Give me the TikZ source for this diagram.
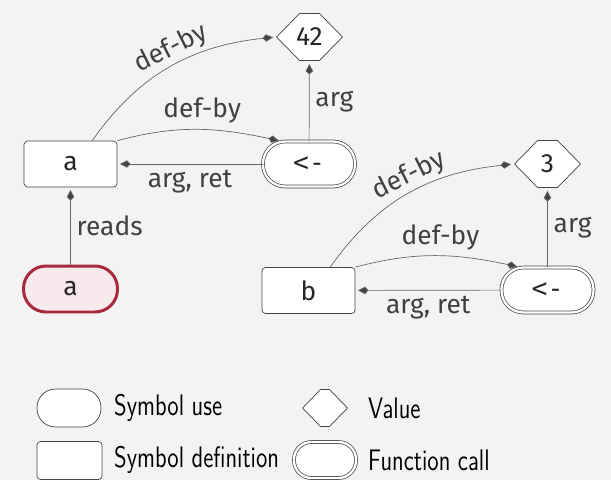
\documentclass[tikz,border=0pt]{standalone}
\usepackage{fontspec}
\setmainfont{Fira Sans}
\setmonofont{DejaVu Sans Mono}
\usetikzlibrary{arrows.meta}

\definecolor{bgcol}{HTML}{F3F3F3}
\definecolor{usered}{HTML}{A8283C}
\definecolor{usefill}{HTML}{F7E9EC}
\definecolor{edgecol}{HTML}{666666}
\definecolor{linecol}{HTML}{444444}

\newcommand{\legtext}[1]{\scalebox{1}[1.28]{#1}}

\begin{document}
\begin{tikzpicture}[
        x=0.02cm, y=-0.02cm,
        every node/.style={
            font=\fontsize{15}{18}\selectfont,
            text=black!85
        },
        symdef/.style={
            draw=linecol,
            fill=white,
            rounded corners=2pt,
            minimum width=1.86cm,
            minimum height=0.92cm
        },
        symuse/.style={
            draw=linecol,
            fill=white,
            rounded corners=0.45cm,
            minimum width=1.88cm,
            minimum height=0.92cm
        },
        usehl/.style={
            symuse,
            draw=usered,
            fill=usefill,
            line width=1.7pt
        },
        fncall/.style={
            draw=linecol,
            double,
            double distance=1.3pt,
            fill=white,
            rounded corners=0.44cm,
            minimum width=1.84cm,
            minimum height=0.9cm
        },
        value/.style={
            rectangle,
            minimum width=1.34cm,
            minimum height=0.96cm,
            inner sep=0pt,
            path picture={
                \draw[draw=linecol, fill=white]
                    ([xshift=.3pt]path picture bounding box.west)
                    -- ([xshift=#1, yshift=-.3pt]path picture bounding box.north west)
                    -- ([xshift=-#1, yshift=-.3pt]path picture bounding box.north east)
                    -- ([xshift=-.3pt]path picture bounding box.east)
                    -- ([xshift=-#1, yshift=.3pt]path picture bounding box.south east)
                    -- ([xshift=#1, yshift=.3pt]path picture bounding box.south west)
                    -- cycle;
            }
        },
        value/.default=0.47cm,
        edge/.style={
            draw=edgecol,
            -{Kite[length=6pt,width=4.2pt,inset=2pt,fill=linecol]},
            shorten >=1.5pt
        },
        lbl/.style={text=black!75},
        legend/.style={font=\sffamily\fontsize{13.2}{15}\selectfont, text=black}
    ]

    % Background
    \fill[bgcol] (0,0) rectangle (611,480);
    \useasboundingbox (0,0) rectangle (611,480);

    % First assignment
    \node[symdef] (aDef) at (70.5,164) {a};
    \node[usehl] (aUse) at (70.5,289) {a};
    \node[fncall] (callA) at (309,164) {\ttfamily <-};
    \node[value] (valA) at (309.5,37) {42};

    \draw[edge] (aUse) -- node[lbl, right] {reads} (aDef);
    \draw[edge] (callA) -- node[lbl, below] {arg, ret} (aDef);
    \draw[edge] (aDef.north east) to[out=15, in=168] node[lbl, above, pos=0.52] {def-by} ([xshift=-0.55cm]callA.north);
    \draw[edge] (aDef.47) to[out=55, in=186] node[lbl, sloped, above, pos=0.54, inner sep=1.5pt] {def-by} (valA.west);
    \draw[edge] (callA) -- node[lbl, right] {arg} (valA);

    % Second assignment
    \node[symdef] (bDef) at (308.5,290.5) {b};
    \node[fncall] (callB) at (547.5,290) {\ttfamily <-};
    \node[value] (valB) at (547.5,164) {3};

    \draw[edge] (callB) -- node[lbl, below] {arg, ret} (bDef);
    \draw[edge] (bDef.north east) to[out=15, in=168] node[lbl, above, pos=0.52] {def-by} ([xshift=-0.55cm]callB.north);
    \draw[edge] (bDef.47) to[out=55, in=186] node[lbl, sloped, above, pos=0.54, inner sep=1.5pt] {def-by} (valB.west);
    \draw[edge] (callB) -- node[lbl, right] {arg} (valB);

    % Legend
    \node[symuse, rounded corners=0.37cm, minimum width=1.28cm, minimum height=0.76cm] (legUse) at (69,408) {};
    \node[symdef, minimum width=1.3cm, minimum height=0.76cm] (legDef) at (69.5,460.5) {};
    \node[value=0.37cm, minimum width=0.92cm, minimum height=0.76cm] (legVal) at (325,408) {};
    \node[fncall, rounded corners=0.35cm, minimum width=1.24cm, minimum height=0.72cm] (legCall) at (325,460) {};

    \node[legend, anchor=west] (txtUse) at (108,408) {\legtext{Symbol use}};
    \node[legend, anchor=west] (txtDef) at (108,460) {\legtext{Symbol definition}};
    \node[legend, anchor=west] (txtVal) at (362,408) {\legtext{Value}};
    \node[legend, anchor=west] (txtCall) at (362,460) {\legtext{Function call}};

\end{tikzpicture}
\end{document}
